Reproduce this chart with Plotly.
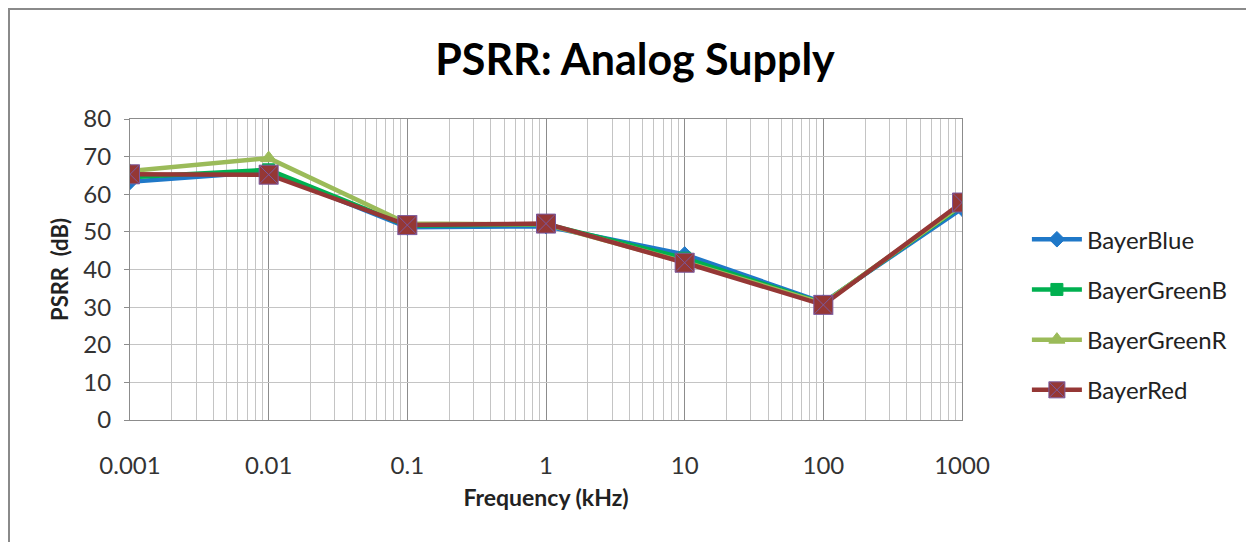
import plotly.graph_objects as go

freq_khz = [0.001, 0.01, 0.1, 1, 10, 100, 1000]
bayer_blue = [63.3, 66.0, 51.2, 51.5, 44.0, 31.2, 56.2]
bayer_green_b = [64.5, 66.5, 51.6, 52.0, 43.0, 31.0, 57.0]
bayer_green_r = [66.2, 69.6, 52.2, 52.0, 42.0, 31.0, 57.2]
bayer_red = [65.3, 65.2, 51.8, 52.2, 41.8, 30.6, 57.8]

y_ticks = [0, 10, 20, 30, 40, 50, 60, 70, 80]
x_ticks = [0.001, 0.01, 0.1, 1, 10, 100, 1000]
x_tick_text = ["0.001", "0.01", "0.1", "1", "10", "100", "1000"]

series = [
    ("BayerBlue", bayer_blue, "#1F78C8", "diamond", 12, None),
    ("BayerGreenB", bayer_green_b, "#00B050", "square", 12, None),
    ("BayerGreenR", bayer_green_r, "#9BBB59", "triangle-up", 14, None),
    ("BayerRed", bayer_red, "#953735", "square-x", 19, "#7B5A9E"),
]

fig = go.Figure()
for i, (name, vals, color, sym, size, mline) in enumerate(series):
    fig.add_trace(go.Scatter(
        x=freq_khz, y=vals, name=name, mode="lines+markers",
        line=dict(color=color, width=4.5),
        marker=dict(symbol=sym, size=size, color=color,
                    line=dict(color=mline if mline else color, width=1)),
        legendgroup=f"g{i}",
    ))

font_family = "Lato, Open Sans, Liberation Sans, sans-serif"

L, T, PW, PH = 122, 111, 832, 301

fig.update_layout(
    width=1254, height=542,
    margin=dict(l=L, r=1254 - L - PW, t=T, b=542 - T - PH),
    paper_bgcolor="white", plot_bgcolor="white",
    title=dict(text="<b>PSRR: Analog Supply</b>", x=0.5, xanchor="center",
               y=0.905, yanchor="middle",
               font=dict(family=font_family, size=43, color="#000")),
    font=dict(family=font_family, size=24, color="#333"),
    showlegend=True,
    legend=dict(x=1.078, y=0.35, xanchor="left", yanchor="middle",
                font=dict(family=font_family, size=24, color="#222"),
                tracegroupgap=16, itemwidth=50),
    xaxis=dict(
        type="log", range=[-3, 3],
        tickvals=x_ticks, ticktext=x_tick_text,
        showgrid=True, gridcolor="#8c8c8c", gridwidth=1,
        minor=dict(dtick="D1", showgrid=True, gridcolor="#c4c4c4", gridwidth=1, ticks=""),
        showline=True, linecolor="#8c8c8c", mirror=True,
        ticks="", ticklabelstandoff=24,
        tickfont=dict(size=24, color="#333"),
        title=dict(text="<b>Frequency (kHz)</b>", standoff=12,
                   font=dict(family=font_family, size=23, color="#222")),
        zeroline=False,
    ),
    yaxis=dict(
        range=[0, 80], tickvals=y_ticks,
        showgrid=True, gridcolor="#c4c4c4", gridwidth=1,
        showline=True, linecolor="#8c8c8c", mirror=True,
        ticks="outside", ticklen=5, tickcolor="#8c8c8c",
        ticklabelstandoff=8,
        tickfont=dict(size=24, color="#333"),
        title=dict(text="<b>PSRR  (dB)</b>", standoff=8,
                   font=dict(family=font_family, size=22, color="#222")),
        zeroline=False,
    ),
)

# outer chart border (top and left visible)
fig.add_shape(type="rect", xref="paper", yref="paper",
              x0=(1 - L) / PW, x1=(1400 - L) / PW,
              y0=-(700 - T - PH) / PH, y1=1 + (T - 1) / PH,
              line=dict(color="#8a8a8a", width=2), fillcolor="rgba(0,0,0,0)",
              layer="below")

fig.write_html("out.html")
